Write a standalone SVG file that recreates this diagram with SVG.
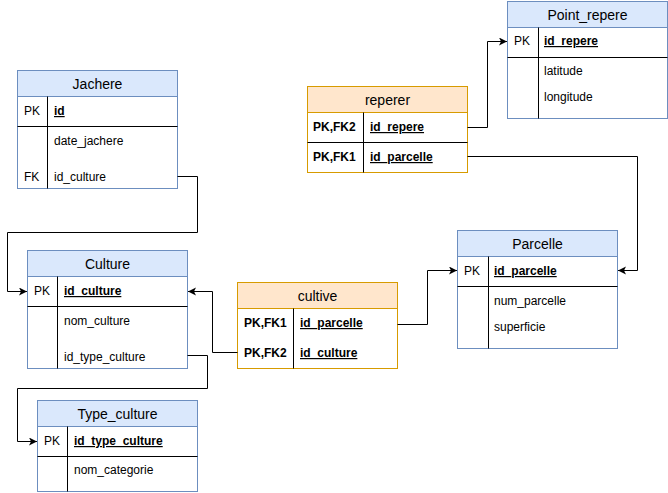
<svg xmlns="http://www.w3.org/2000/svg" width="668" height="493" viewBox="0 0 668 493">
<defs>
<marker id="arr" markerWidth="10" markerHeight="10" refX="8" refY="4" orient="auto" markerUnits="userSpaceOnUse">
<path d="M0,0 L8,4 L0,8 L2,4 Z" fill="#000"/>
</marker>
</defs>
<style>
text{font-family:"Liberation Sans",Arial,sans-serif;font-size:12px;fill:#000}
.h{font-size:14px;text-anchor:middle}
.b{font-weight:bold}
.u{font-weight:bold;text-decoration:underline}
.bt{fill:#dae8fc;stroke:#6c8ebf}
.ot{fill:#ffe6cc;stroke:#d79b00}
.bb{fill:#fff;stroke:#6c8ebf}
.ob{fill:#fff;stroke:#d79b00}
.l{stroke:#000;fill:none}
.c{stroke:#000;fill:none;marker-end:url(#arr)}
</style>
<rect width="668" height="493" fill="#fff"/>

<g id="Jachere">
<rect class="bb" x="17.5" y="70.5" width="160" height="118"/>
<rect class="bt" x="17.5" y="70.5" width="160" height="26"/>
<text class="h" x="97.5" y="88.5">Jachere</text>
<line class="l" x1="17.5" y1="126.5" x2="177.5" y2="126.5"/>
<line class="l" x1="47.5" y1="96.5" x2="47.5" y2="188.5"/>
<text x="24" y="115">PK</text>
<text class="u" x="54" y="115">id</text>
<text x="54" y="145">date_jachere</text>
<text x="24" y="181">FK</text>
<text x="54" y="181">id_culture</text>
</g>

<g id="Point_repere">
<rect class="bb" x="507.5" y="1.5" width="160" height="117"/>
<rect class="bt" x="507.5" y="1.5" width="160" height="26"/>
<text class="h" x="587.5" y="19.5">Point_repere</text>
<line class="l" x1="507.5" y1="57.5" x2="667.5" y2="57.5"/>
<line class="l" x1="538.5" y1="27.5" x2="538.5" y2="118.5"/>
<text x="514" y="45">PK</text>
<text class="u" x="544" y="45">id_repere</text>
<text x="544" y="75">latitude</text>
<text x="544" y="101">longitude</text>
</g>

<g id="reperer">
<rect class="ob" x="307.5" y="86.5" width="160" height="86"/>
<rect class="ot" x="307.5" y="86.5" width="160" height="26"/>
<text class="h" x="387.5" y="104.5">reperer</text>
<line class="l" x1="307.5" y1="142.5" x2="467.5" y2="142.5"/>
<line class="l" x1="363.5" y1="112.5" x2="363.5" y2="172.5"/>
<text class="b" x="313" y="131">PK,FK2</text>
<text class="u" x="370" y="131">id_repere</text>
<text class="b" x="313" y="161">PK,FK1</text>
<text class="u" x="370" y="161">id_parcelle</text>
</g>

<g id="Culture">
<rect class="bb" x="27.5" y="250.5" width="160" height="118"/>
<rect class="bt" x="27.5" y="250.5" width="160" height="26"/>
<text class="h" x="107.5" y="268.5">Culture</text>
<line class="l" x1="27.5" y1="306.5" x2="187.5" y2="306.5"/>
<line class="l" x1="57.5" y1="276.5" x2="57.5" y2="368.5"/>
<text x="34" y="295">PK</text>
<text class="u" x="64" y="295">id_culture</text>
<text x="64" y="325">nom_culture</text>
<text x="64" y="361">id_type_culture</text>
</g>

<g id="cultive">
<rect class="ob" x="237.5" y="282.5" width="160" height="86"/>
<rect class="ot" x="237.5" y="282.5" width="160" height="26"/>
<text class="h" x="317.5" y="300.5">cultive</text>
<line class="l" x1="293.5" y1="308.5" x2="293.5" y2="368.5"/>
<text class="b" x="244" y="327">PK,FK1</text>
<text class="u" x="300" y="327">id_parcelle</text>
<text class="b" x="244" y="357">PK,FK2</text>
<text class="u" x="300" y="357">id_culture</text>
</g>

<g id="Parcelle">
<rect class="bb" x="457.5" y="230.5" width="160" height="118"/>
<rect class="bt" x="457.5" y="230.5" width="160" height="26"/>
<text class="h" x="537.5" y="248.5">Parcelle</text>
<line class="l" x1="457.5" y1="286.5" x2="617.5" y2="286.5"/>
<line class="l" x1="488.5" y1="256.5" x2="488.5" y2="348.5"/>
<text x="464" y="275">PK</text>
<text class="u" x="494" y="275">id_parcelle</text>
<text x="494" y="305">num_parcelle</text>
<text x="494" y="331">superficie</text>
</g>

<g id="Type_culture">
<rect class="bb" x="37.5" y="400.5" width="160" height="91"/>
<rect class="bt" x="37.5" y="400.5" width="160" height="26"/>
<text class="h" x="117.5" y="418.5">Type_culture</text>
<line class="l" x1="37.5" y1="456.5" x2="197.5" y2="456.5"/>
<line class="l" x1="67.5" y1="426.5" x2="67.5" y2="491.5"/>
<text x="44" y="445">PK</text>
<text class="u" x="74" y="445">id_type_culture</text>
<text x="74" y="474">nom_categorie</text>
</g>

<g id="connectors">
<path class="c" d="M177.5,176.5 H197.5 V232.5 H7.5 V291.5 H27"/>
<path class="c" d="M187.5,355.5 H207.5 V388.5 H17.5 V441.5 H37"/>
<path class="c" d="M237.5,352.5 H212.5 V291.5 H188"/>
<path class="c" d="M397.5,324.5 H427.5 V270.5 H457"/>
<path class="c" d="M467.5,127.5 H487.5 V41.5 H507"/>
<path class="c" d="M467.5,156.5 H637.5 V270.5 H618"/>
</g>
</svg>
